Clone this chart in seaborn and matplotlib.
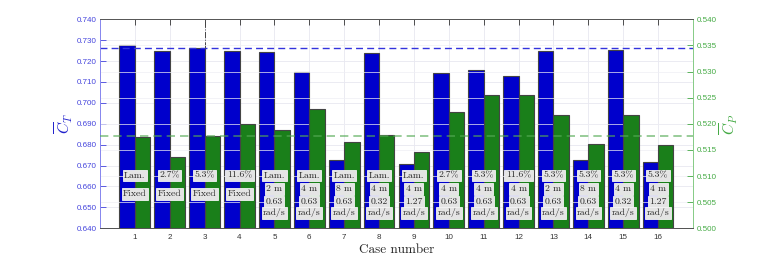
import numpy as np
import pandas as pd
import matplotlib
matplotlib.use("Agg")
import matplotlib.pyplot as plt
import seaborn as sns

cases = [1, 2, 3, 4, 5, 6, 7, 8, 9, 10, 11, 12, 13, 14, 15, 16]
ct_mean = [0.7277, 0.7248, 0.7264, 0.7248, 0.7245, 0.7149, 0.6727, 0.7237,
           0.6708, 0.7142, 0.7156, 0.7130, 0.7250, 0.6727, 0.7253, 0.6717]
cp_mean = [0.5175, 0.5137, 0.5177, 0.5199, 0.5188, 0.5229, 0.5165, 0.5178,
           0.5146, 0.5223, 0.5256, 0.5255, 0.5216, 0.5161, 0.5216, 0.5159]
ct_ref = 0.7264
cp_ref = 0.5177
ref_case = 3
label_turb = ['Lam.', '2.7%', '5.3%', '11.6%', 'Lam.', 'Lam.', 'Lam.', 'Lam.',
              'Lam.', '2.7%', '5.3%', '11.6%', '5.3%', '5.3%', '5.3%', '5.3%']
label_amp = ['Fixed', 'Fixed', 'Fixed', 'Fixed', '2 m', '4 m', '8 m', '4 m',
             '4 m', '4 m', '4 m', '4 m', '2 m', '8 m', '4 m', '4 m']
label_freq = [None, None, None, None, '0.63', '0.63', '0.63', '0.32',
              '1.27', '0.63', '0.63', '0.63', '0.63', '0.63', '0.32', '1.27']
ct_ticks = [0.640, 0.650, 0.660, 0.670, 0.680, 0.690, 0.700, 0.710, 0.720, 0.730, 0.740]
cp_ticks = [0.500, 0.505, 0.510, 0.515, 0.520, 0.525, 0.530, 0.535, 0.540]

sns.set_style("white")
plt.rcParams['font.family'] = ['Liberation Sans', 'DejaVu Sans']
plt.rcParams['mathtext.fontset'] = 'cm'

blue = '#0000cc'
green = '#1a7f1a'
blue_txt = '#4444dd'
green_txt = '#44aa44'
serif = ['cmr10', 'DejaVu Serif']

fig = plt.figure(figsize=(7.66, 2.57), dpi=100)
ax1 = fig.add_axes([0.1305, 0.1117, 0.9047 - 0.1305, 0.925 - 0.1117])
ax2 = ax1.twinx()

bw = 0.44
df = pd.DataFrame({'case': cases, 'ct': ct_mean, 'cp': cp_mean})
df['xb'] = df['case'] - bw / 2
df['xg'] = df['case'] + bw / 2

sns.barplot(data=df, x='xb', y='ct', ax=ax1, native_scale=True, width=bw,
            color=blue, saturation=1, edgecolor='#444444', linewidth=0.8, zorder=2)
sns.barplot(data=df, x='xg', y='cp', ax=ax2, native_scale=True, width=bw,
            color=green, saturation=1, edgecolor='#444444', linewidth=0.8, zorder=2)

ax1.set_xlim(0, 17)
ax1.set_ylim(0.640, 0.740)
ax2.set_ylim(0.500, 0.540)
ax1.set_xticks(cases)
ax1.set_xticklabels([str(c) for c in cases])
ax1.set_yticks(ct_ticks)
ax1.set_yticklabels([f"{v:.3f}" for v in ct_ticks])
ax2.set_yticks(cp_ticks)
ax2.set_yticklabels([f"{v:.3f}" for v in cp_ticks])

ax1.grid(True, color='#e8e8f0', linewidth=0.6, zorder=0)
ax1.set_axisbelow(True)
ax2.yaxis.grid(True, color='#eeeef4', linewidth=0.5)
ax2.set_axisbelow(True)

ax1.tick_params(axis='y', colors=blue_txt, labelsize=5.8, direction='in', length=4, width=0.6, pad=2.5)
ax1.tick_params(axis='x', colors='#333333', labelsize=5.8, direction='in', length=4, width=0.6, top=True, pad=4)
ax2.tick_params(axis='y', colors=green_txt, labelsize=5.8, direction='in', length=4, width=0.6, pad=2.5)

for ax in (ax1, ax2):
    ax.spines['top'].set_color('#555555')
    ax.spines['bottom'].set_color('#555555')
    ax.spines['left'].set_color('#8888ee')
    ax.spines['right'].set_color('#88cc88')
    for s in ax.spines.values():
        s.set_linewidth(0.7)

ax1.set_xlabel('Case number', fontsize=9.5, family=serif, labelpad=2)
ax1.set_ylabel(r'$\overline{C}_T$', color='#2222cc', fontsize=11, labelpad=1)
ax2.set_ylabel(r'$\overline{C}_P$', color=green_txt, fontsize=11, labelpad=1)

ax1.axhline(ct_ref, color='#3333dd', linestyle=(0, (5, 3)), linewidth=1.0, zorder=3)
ax2.axhline(cp_ref, color='#55aa55', linestyle=(0, (5, 3)), linewidth=1.2, alpha=0.7, zorder=5)
ax1.plot([ref_case, ref_case], [ct_ref, 0.740], color='#444444', linestyle='-.', linewidth=0.7, zorder=3)

bbox = dict(boxstyle='square,pad=0.15', facecolor='#e4e4e4', edgecolor='#f4f4f4', linewidth=0.6)
for i, c in enumerate(cases):
    kw = dict(transform=ax1.transData, ha='center', va='center', fontsize=7,
              family=serif, bbox=bbox, zorder=10)
    if label_freq[i] is None:
        ax2.text(c, 0.6652, label_turb[i], **kw)
        ax2.text(c, 0.6564, label_amp[i], **kw)
    else:
        ax2.text(c, 0.6652, label_turb[i], **kw)
        ax2.text(c, 0.6588, label_amp[i], **kw)
        ax2.text(c, 0.6527, label_freq[i], **kw)
        ax2.text(c, 0.6475, 'rad/s', **kw)

fig.savefig('out.png', dpi=100)
